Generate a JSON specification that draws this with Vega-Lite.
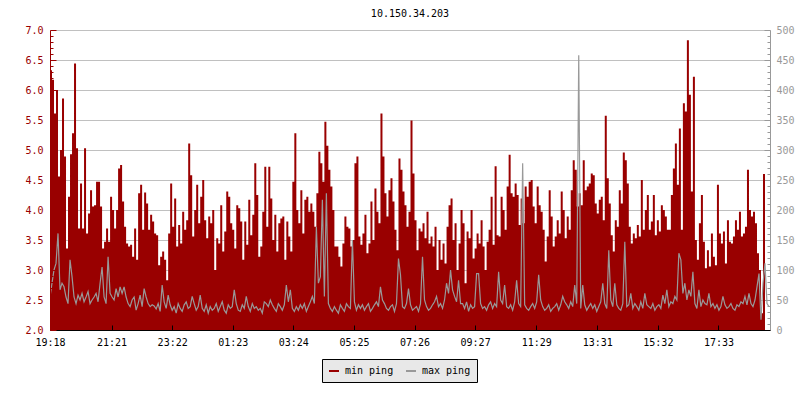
{
"$schema": "https://vega.github.io/schema/vega-lite/v6.json",
"width": 720, "height": 300,
"autosize": {"type": "none"},
"padding": {"left": 50, "top": 30, "right": 30, "bottom": 70},
"background": "#ffffff",
"config": {"view": {"stroke": null}},
"title": {"text": "10.150.34.203", "font": "DejaVu Sans Mono", "fontSize": 10, "fontWeight": "normal", "color": "#000000", "anchor": "middle", "offset": 6},
"data": {"values": [
{"m":0,"lo":6.33,"hi":55},{"m":4,"lo":6.17,"hi":78},{"m":8,"lo":5.61,"hi":100},{"m":12,"lo":6.0,"hi":111},{"m":16,"lo":4.56,"hi":161},{"m":20,"lo":5.0,"hi":67},{"m":24,"lo":5.86,"hi":78},{"m":28,"lo":4.89,"hi":72},{"m":32,"lo":3.36,"hi":55},{"m":36,"lo":4.22,"hi":44},{"m":40,"lo":4.93,"hi":117},{"m":44,"lo":5.28,"hi":89},{"m":48,"lo":6.44,"hi":55},{"m":52,"lo":5.03,"hi":44},{"m":56,"lo":3.69,"hi":58},{"m":60,"lo":4.44,"hi":50},{"m":64,"lo":3.69,"hi":61},{"m":68,"lo":5.03,"hi":47},{"m":72,"lo":3.61,"hi":55},{"m":76,"lo":3.94,"hi":64},{"m":80,"lo":4.33,"hi":44},{"m":84,"lo":4.06,"hi":50},{"m":88,"lo":4.08,"hi":55},{"m":92,"lo":4.47,"hi":61},{"m":96,"lo":4.47,"hi":47},{"m":100,"lo":4.06,"hi":78},{"m":104,"lo":3.36,"hi":105},{"m":108,"lo":3.47,"hi":55},{"m":112,"lo":3.69,"hi":44},{"m":116,"lo":3.47,"hi":122},{"m":120,"lo":4.22,"hi":61},{"m":124,"lo":4.0,"hi":55},{"m":128,"lo":3.69,"hi":50},{"m":132,"lo":4.0,"hi":69},{"m":136,"lo":4.69,"hi":55},{"m":140,"lo":4.75,"hi":72},{"m":144,"lo":4.14,"hi":61},{"m":148,"lo":3.72,"hi":72},{"m":152,"lo":3.44,"hi":55},{"m":156,"lo":3.39,"hi":44},{"m":160,"lo":3.42,"hi":39},{"m":164,"lo":3.22,"hi":50},{"m":168,"lo":3.69,"hi":55},{"m":172,"lo":3.17,"hi":33},{"m":176,"lo":4.28,"hi":44},{"m":180,"lo":4.42,"hi":58},{"m":184,"lo":3.67,"hi":39},{"m":188,"lo":4.29,"hi":69},{"m":192,"lo":4.11,"hi":55},{"m":196,"lo":3.67,"hi":44},{"m":200,"lo":3.92,"hi":39},{"m":204,"lo":3.81,"hi":42},
{"m":208,"lo":3.61,"hi":40},{"m":212,"lo":3.58,"hi":35},{"m":216,"lo":3.08,"hi":44},{"m":220,"lo":3.22,"hi":31},{"m":224,"lo":3.31,"hi":75},{"m":228,"lo":3.17,"hi":47},{"m":232,"lo":2.83,"hi":36},{"m":236,"lo":3.61,"hi":58},{"m":240,"lo":4.44,"hi":42},{"m":244,"lo":3.72,"hi":33},{"m":248,"lo":4.19,"hi":39},{"m":252,"lo":3.39,"hi":28},{"m":256,"lo":3.75,"hi":44},{"m":260,"lo":3.44,"hi":36},{"m":264,"lo":3.97,"hi":31},{"m":268,"lo":3.67,"hi":42},{"m":272,"lo":3.83,"hi":47},{"m":276,"lo":5.11,"hi":36},{"m":280,"lo":4.58,"hi":39},{"m":284,"lo":3.56,"hi":56},{"m":288,"lo":4.0,"hi":44},{"m":292,"lo":4.42,"hi":33},{"m":296,"lo":3.78,"hi":39},{"m":300,"lo":4.22,"hi":58},{"m":304,"lo":4.5,"hi":36},{"m":308,"lo":3.83,"hi":31},{"m":312,"lo":3.53,"hi":42},{"m":316,"lo":3.89,"hi":28},{"m":320,"lo":3.78,"hi":39},{"m":324,"lo":4.0,"hi":33},{"m":328,"lo":3.0,"hi":36},{"m":332,"lo":3.53,"hi":44},{"m":336,"lo":3.44,"hi":31},{"m":340,"lo":4.08,"hi":39},{"m":344,"lo":3.31,"hi":47},{"m":348,"lo":3.64,"hi":33},{"m":352,"lo":4.31,"hi":28},{"m":356,"lo":4.22,"hi":42},{"m":360,"lo":3.78,"hi":36},{"m":364,"lo":3.67,"hi":39},{"m":368,"lo":3.36,"hi":67},{"m":372,"lo":4.08,"hi":44},{"m":376,"lo":4.03,"hi":33},{"m":380,"lo":3.81,"hi":31},{"m":384,"lo":3.17,"hi":42},{"m":388,"lo":3.81,"hi":36},{"m":392,"lo":3.42,"hi":56},{"m":396,"lo":4.17,"hi":39},{"m":400,"lo":3.58,"hi":31},{"m":404,"lo":3.92,"hi":44},{"m":408,"lo":4.78,"hi":36},
{"m":412,"lo":4.25,"hi":39},{"m":416,"lo":3.22,"hi":33},{"m":420,"lo":3.39,"hi":36},{"m":424,"lo":3.97,"hi":28},{"m":428,"lo":4.72,"hi":47},{"m":432,"lo":3.72,"hi":44},{"m":436,"lo":4.72,"hi":39},{"m":440,"lo":4.19,"hi":50},{"m":444,"lo":3.5,"hi":42},{"m":448,"lo":3.92,"hi":36},{"m":452,"lo":3.31,"hi":31},{"m":456,"lo":3.78,"hi":44},{"m":460,"lo":3.86,"hi":39},{"m":464,"lo":3.89,"hi":33},{"m":468,"lo":3.17,"hi":42},{"m":472,"lo":3.81,"hi":75},{"m":476,"lo":3.56,"hi":47},{"m":480,"lo":3.31,"hi":67},{"m":484,"lo":4.47,"hi":36},{"m":488,"lo":5.28,"hi":31},{"m":492,"lo":4.0,"hi":39},{"m":496,"lo":3.78,"hi":33},{"m":500,"lo":4.33,"hi":42},{"m":504,"lo":3.61,"hi":36},{"m":508,"lo":4.17,"hi":44},{"m":512,"lo":4.22,"hi":31},{"m":516,"lo":3.97,"hi":39},{"m":520,"lo":4.11,"hi":47},{"m":524,"lo":3.97,"hi":56},{"m":528,"lo":3.72,"hi":44},{"m":532,"lo":4.28,"hi":172},{"m":536,"lo":4.97,"hi":78},{"m":540,"lo":4.78,"hi":89},{"m":544,"lo":4.47,"hi":217},{"m":548,"lo":5.47,"hi":56},{"m":552,"lo":5.07,"hi":228},{"m":556,"lo":4.67,"hi":44},{"m":560,"lo":4.39,"hi":36},{"m":564,"lo":4.0,"hi":31},{"m":568,"lo":3.39,"hi":39},{"m":572,"lo":3.39,"hi":33},{"m":576,"lo":3.22,"hi":28},{"m":580,"lo":3.06,"hi":42},{"m":584,"lo":3.44,"hi":36},{"m":588,"lo":3.89,"hi":31},{"m":592,"lo":3.72,"hi":44},{"m":596,"lo":3.69,"hi":39},{"m":600,"lo":3.39,"hi":36},{"m":604,"lo":3.5,"hi":150},{"m":608,"lo":4.78,"hi":47},{"m":612,"lo":4.89,"hi":33},{"m":616,"lo":3.56,"hi":42},
{"m":620,"lo":3.42,"hi":36},{"m":624,"lo":3.61,"hi":42},{"m":628,"lo":3.92,"hi":33},{"m":632,"lo":3.28,"hi":39},{"m":636,"lo":3.44,"hi":44},{"m":640,"lo":4.14,"hi":31},{"m":644,"lo":3.5,"hi":36},{"m":648,"lo":4.36,"hi":42},{"m":652,"lo":3.97,"hi":47},{"m":656,"lo":3.78,"hi":39},{"m":660,"lo":5.61,"hi":72},{"m":664,"lo":4.89,"hi":50},{"m":668,"lo":4.28,"hi":44},{"m":672,"lo":3.89,"hi":36},{"m":676,"lo":4.33,"hi":33},{"m":680,"lo":4.53,"hi":39},{"m":684,"lo":4.14,"hi":42},{"m":688,"lo":3.67,"hi":31},{"m":692,"lo":3.33,"hi":44},{"m":696,"lo":4.86,"hi":119},{"m":700,"lo":4.67,"hi":92},{"m":704,"lo":4.31,"hi":39},{"m":708,"lo":4.08,"hi":36},{"m":712,"lo":3.72,"hi":44},{"m":716,"lo":3.97,"hi":69},{"m":720,"lo":5.49,"hi":42},{"m":724,"lo":4.61,"hi":33},{"m":728,"lo":3.83,"hi":36},{"m":732,"lo":3.33,"hi":39},{"m":736,"lo":3.69,"hi":31},{"m":740,"lo":3.64,"hi":44},{"m":744,"lo":3.78,"hi":122},{"m":748,"lo":3.53,"hi":50},{"m":752,"lo":3.97,"hi":39},{"m":756,"lo":3.44,"hi":33},{"m":760,"lo":3.56,"hi":36},{"m":764,"lo":3.39,"hi":42},{"m":768,"lo":3.72,"hi":47},{"m":772,"lo":3.0,"hi":56},{"m":776,"lo":3.5,"hi":39},{"m":780,"lo":3.17,"hi":44},{"m":784,"lo":3.44,"hi":36},{"m":788,"lo":3.11,"hi":50},{"m":792,"lo":3.72,"hi":78},{"m":796,"lo":4.08,"hi":61},{"m":800,"lo":4.19,"hi":100},{"m":804,"lo":3.5,"hi":67},{"m":808,"lo":3.78,"hi":56},{"m":812,"lo":3.0,"hi":47},{"m":816,"lo":3.44,"hi":83},{"m":820,"lo":4.0,"hi":44},
{"m":824,"lo":3.78,"hi":44},{"m":828,"lo":2.78,"hi":36},{"m":832,"lo":3.64,"hi":47},{"m":836,"lo":3.53,"hi":31},{"m":840,"lo":4.0,"hi":42},{"m":844,"lo":3.19,"hi":36},{"m":848,"lo":3.36,"hi":39},{"m":852,"lo":3.61,"hi":94},{"m":856,"lo":3.44,"hi":94},{"m":860,"lo":3.83,"hi":44},{"m":864,"lo":3.39,"hi":36},{"m":868,"lo":3.0,"hi":39},{"m":872,"lo":3.47,"hi":33},{"m":876,"lo":3.67,"hi":42},{"m":880,"lo":4.22,"hi":47},{"m":884,"lo":3.42,"hi":36},{"m":888,"lo":4.73,"hi":44},{"m":892,"lo":3.58,"hi":39},{"m":896,"lo":3.56,"hi":97},{"m":900,"lo":4.22,"hi":50},{"m":904,"lo":4.0,"hi":44},{"m":908,"lo":3.67,"hi":75},{"m":912,"lo":4.39,"hi":39},{"m":916,"lo":4.92,"hi":36},{"m":920,"lo":4.28,"hi":42},{"m":924,"lo":4.22,"hi":33},{"m":928,"lo":4.44,"hi":47},{"m":932,"lo":4.25,"hi":83},{"m":936,"lo":3.75,"hi":44},{"m":940,"lo":4.19,"hi":39},{"m":944,"lo":3.78,"hi":278},{"m":948,"lo":4.39,"hi":42},{"m":952,"lo":4.22,"hi":36},{"m":956,"lo":4.47,"hi":33},{"m":960,"lo":4.5,"hi":39},{"m":964,"lo":4.06,"hi":44},{"m":968,"lo":3.78,"hi":36},{"m":972,"lo":4.39,"hi":47},{"m":976,"lo":4.08,"hi":92},{"m":980,"lo":3.97,"hi":50},{"m":984,"lo":3.67,"hi":39},{"m":988,"lo":3.14,"hi":33},{"m":992,"lo":3.56,"hi":36},{"m":996,"lo":4.33,"hi":42},{"m":1000,"lo":3.89,"hi":31},{"m":1004,"lo":3.39,"hi":36},{"m":1008,"lo":3.56,"hi":39},{"m":1012,"lo":3.83,"hi":44},{"m":1016,"lo":3.61,"hi":33},{"m":1020,"lo":4.31,"hi":42},{"m":1024,"lo":4.0,"hi":56},{"m":1028,"lo":3.53,"hi":47},
{"m":1032,"lo":3.89,"hi":42},{"m":1036,"lo":3.67,"hi":36},{"m":1040,"lo":4.33,"hi":47},{"m":1044,"lo":4.83,"hi":39},{"m":1048,"lo":4.67,"hi":75},{"m":1052,"lo":4.06,"hi":44},{"m":1056,"lo":4.28,"hi":458},{"m":1060,"lo":4.08,"hi":36},{"m":1064,"lo":4.83,"hi":75},{"m":1068,"lo":4.33,"hi":42},{"m":1072,"lo":4.39,"hi":33},{"m":1076,"lo":4.44,"hi":39},{"m":1080,"lo":4.61,"hi":44},{"m":1084,"lo":4.58,"hi":36},{"m":1088,"lo":4.11,"hi":42},{"m":1092,"lo":3.94,"hi":31},{"m":1096,"lo":4.17,"hi":39},{"m":1100,"lo":4.22,"hi":47},{"m":1104,"lo":3.83,"hi":78},{"m":1108,"lo":5.57,"hi":44},{"m":1112,"lo":4.53,"hi":36},{"m":1116,"lo":4.11,"hi":133},{"m":1120,"lo":3.58,"hi":50},{"m":1124,"lo":3.31,"hi":39},{"m":1128,"lo":3.83,"hi":78},{"m":1132,"lo":3.72,"hi":42},{"m":1136,"lo":4.33,"hi":36},{"m":1140,"lo":4.11,"hi":33},{"m":1144,"lo":4.96,"hi":44},{"m":1148,"lo":4.83,"hi":147},{"m":1152,"lo":4.44,"hi":39},{"m":1156,"lo":3.72,"hi":42},{"m":1160,"lo":3.44,"hi":61},{"m":1164,"lo":3.61,"hi":36},{"m":1168,"lo":3.53,"hi":44},{"m":1172,"lo":3.75,"hi":39},{"m":1176,"lo":3.56,"hi":33},{"m":1180,"lo":4.5,"hi":47},{"m":1184,"lo":3.67,"hi":36},{"m":1188,"lo":4.0,"hi":61},{"m":1192,"lo":4.25,"hi":42},{"m":1196,"lo":3.67,"hi":39},{"m":1200,"lo":3.81,"hi":36},{"m":1204,"lo":4.25,"hi":44},{"m":1208,"lo":3.58,"hi":33},{"m":1212,"lo":3.83,"hi":39},{"m":1216,"lo":3.64,"hi":42},{"m":1220,"lo":4.08,"hi":36},{"m":1224,"lo":4.0,"hi":58},{"m":1228,"lo":3.89,"hi":44},{"m":1232,"lo":3.67,"hi":67},
{"m":1236,"lo":3.67,"hi":39},{"m":1240,"lo":4.25,"hi":47},{"m":1244,"lo":4.69,"hi":44},{"m":1248,"lo":5.11,"hi":56},{"m":1252,"lo":4.42,"hi":50},{"m":1256,"lo":5.36,"hi":128},{"m":1260,"lo":3.67,"hi":117},{"m":1264,"lo":5.78,"hi":61},{"m":1268,"lo":5.64,"hi":78},{"m":1272,"lo":6.83,"hi":50},{"m":1276,"lo":5.92,"hi":67},{"m":1280,"lo":4.31,"hi":56},{"m":1284,"lo":6.22,"hi":97},{"m":1288,"lo":3.5,"hi":44},{"m":1292,"lo":3.17,"hi":36},{"m":1296,"lo":3.78,"hi":67},{"m":1300,"lo":4.25,"hi":39},{"m":1304,"lo":3.47,"hi":50},{"m":1308,"lo":3.03,"hi":44},{"m":1312,"lo":3.33,"hi":42},{"m":1316,"lo":3.06,"hi":61},{"m":1320,"lo":3.61,"hi":39},{"m":1324,"lo":3.22,"hi":44},{"m":1328,"lo":3.08,"hi":36},{"m":1332,"lo":4.42,"hi":42},{"m":1336,"lo":3.61,"hi":33},{"m":1340,"lo":3.44,"hi":39},{"m":1344,"lo":3.64,"hi":56},{"m":1348,"lo":3.11,"hi":42},{"m":1352,"lo":3.83,"hi":36},{"m":1356,"lo":3.47,"hi":39},{"m":1360,"lo":3.44,"hi":44},{"m":1364,"lo":3.56,"hi":36},{"m":1368,"lo":3.83,"hi":33},{"m":1372,"lo":3.67,"hi":42},{"m":1376,"lo":3.97,"hi":39},{"m":1380,"lo":3.56,"hi":47},{"m":1384,"lo":3.61,"hi":44},{"m":1388,"lo":3.72,"hi":56},{"m":1392,"lo":4.67,"hi":42},{"m":1396,"lo":4.0,"hi":61},{"m":1400,"lo":3.89,"hi":44},{"m":1404,"lo":3.97,"hi":39},{"m":1408,"lo":3.78,"hi":50},{"m":1412,"lo":3.28,"hi":72},{"m":1416,"lo":3.0,"hi":94},{"m":1420,"lo":2.28,"hi":17},{"m":1424,"lo":4.6,"hi":78},{"m":1428,"lo":3.9,"hi":111},{"m":1432,"lo":null,"hi":44},{"m":1436,"lo":null,"hi":39}
]},
"layer": [
{"mark": {"type": "area", "interpolate": "step-after", "color": "#990000", "clip": true},
 "encoding": {
  "x": {"field": "m", "type": "quantitative", "scale": {"domain": [0, 1438], "nice": false, "zero": false},
    "axis": {"title": null, "values": [0,123,244,365,486,607,728,849,971,1093,1214,1335],
      "labelExpr": "timeFormat(datetime(2024,0,1,19,18+datum.value),'%H:%M')",
      "grid": false, "zindex": 1, "tickSize": -5, "tickColor": "#000000", "domainColor": "#000000", "labelColor": "#000000",
      "labelFont": "DejaVu Sans Mono", "labelFontSize": 10, "labelPadding": 12, "labelFlush": false, "labelOverlap": false, "labelAngle": 0}},
  "y": {"field": "lo", "type": "quantitative", "scale": {"domain": [2, 7], "nice": false, "zero": false},
    "axis": {"title": null, "orient": "left", "zindex": 1, "grid": false,
      "values": [2,2.1,2.2,2.3,2.4,2.5,2.6,2.7,2.8,2.9,3,3.1,3.2,3.3,3.4,3.5,3.6,3.7,3.8,3.9,4,4.1,4.2,4.3,4.4,4.5,4.6,4.7,4.8,4.9,5,5.1,5.2,5.3,5.4,5.5,5.6,5.7,5.8,5.9,6,6.1,6.2,6.3,6.4,6.5,6.6,6.7,6.8,6.9,7],
      "labelExpr": "abs(datum.value*2-round(datum.value*2))<0.01 ? format(datum.value,'.1f') : ''",
      "tickSize": {"condition": {"test": "abs(datum.value*2-round(datum.value*2))<0.01", "value": -6}, "value": -3},
      "tickColor": "#990000", "domainColor": "#990000", "labelColor": "#990000",
      "labelFont": "DejaVu Sans Mono", "labelFontSize": 10, "labelPadding": 13, "labelOverlap": false}}
 }},
{"mark": {"type": "line", "interpolate": "linear", "strokeWidth": 1.2, "clip": true},
 "encoding": {
  "x": {"field": "m", "type": "quantitative"},
  "y": {"field": "hi", "type": "quantitative", "scale": {"domain": [0, 500], "nice": false, "zero": false},
    "axis": {"title": null, "orient": "right", "zindex": 0, "grid": true, "gridColor": "#c0c0c0",
      "gridOpacity": {"condition": {"test": "datum.value % 50 == 0", "value": 1}, "value": 0},
      "values": [0,10,20,30,40,50,60,70,80,90,100,110,120,130,140,150,160,170,180,190,200,210,220,230,240,250,260,270,280,290,300,310,320,330,340,350,360,370,380,390,400,410,420,430,440,450,460,470,480,490,500],
      "labelExpr": "datum.value % 50 == 0 ? datum.label : ''",
      "tickSize": {"condition": {"test": "datum.value % 50 == 0", "value": -6}, "value": -3},
      "tickColor": "#999999", "domainColor": "#999999", "labelColor": "#999999",
      "labelFont": "DejaVu Sans Mono", "labelFontSize": 10, "labelPadding": 12, "labelOverlap": false}},
  "color": {"datum": "max ping", "type": "nominal",
    "scale": {"domain": ["min ping", "max ping"], "range": ["#990000", "#999999"]},
    "legend": {"orient": "none", "legendX": 272, "legendY": 329, "direction": "horizontal", "title": null,
      "fillColor": "#e8e8e8", "strokeColor": "#000000", "padding": 6, "cornerRadius": 0,
      "symbolType": "stroke", "symbolSize": 100, "symbolStrokeWidth": 2,
      "labelFont": "DejaVu Sans Mono", "labelFontSize": 10, "labelColor": "#000000", "labelOffset": 5, "columnPadding": 8}}
 }}
],
"resolve": {"scale": {"y": "independent"}}
}
